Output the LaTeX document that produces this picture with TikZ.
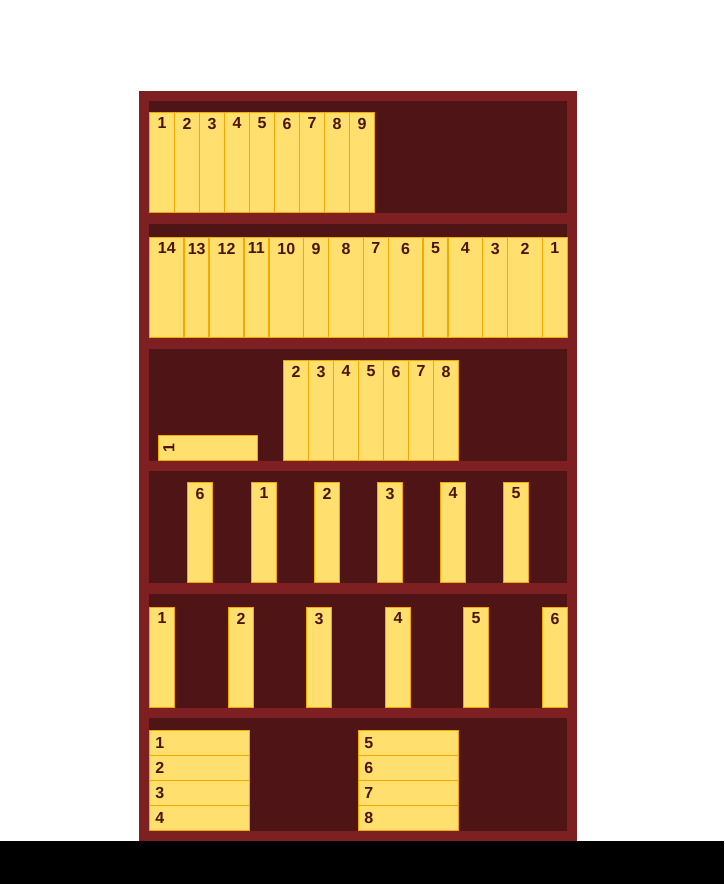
\documentclass[tikz,border=0pt]{standalone}
\usepackage{fontspec}
\setmainfont{Liberation Sans}
\usepackage{tikz}
\definecolor{marco}{HTML}{7E1F21}
\definecolor{fondo}{HTML}{4F1516}
\definecolor{lomo}{HTML}{FFE06E}
\definecolor{canto}{HTML}{F2A900}
\definecolor{tinta}{HTML}{4A1508}

\begin{document}
\begin{tikzpicture}[x=1pt,y=-1pt,
  libro/.style={draw=canto,fill=lomo,line width=1pt,inner sep=0pt,anchor=south west},
  alto/.style={libro,minimum width=24.5,minimum height=99.5},
  lab/.style={inner sep=0pt,text=tinta,font=\fontsize{16}{18}\selectfont\bfseries}]
  \useasboundingbox (0,0) rectangle (724,884);
  \fill[black] (0,841) rectangle (724,884);
  % mueble y baldas
  \fill[marco] (139,91) rectangle (577,841);
  \foreach \t/\b in {101/213,224/338,349/461,471/583,594/708,718/831}
   \fill[fondo] (149,\t) rectangle (567,\b);
  % balda 1
  \foreach \n in {1,...,9} {
   \node[alto] (a\n) at ({149.25+25*(\n-1)},212.75) {};
   \node[lab,anchor=north] at ([yshift=-5.5pt]a\n.north) {\n};
  }
  % balda 2
  \foreach \x/\w/\n in {149/34.7/14,183.7/25/13,208.7/34.7/12,243.4/25/11,268.4/34.7/10,
    303.1/25/9,328.1/34.7/8,362.8/25/7,387.8/34.7/6,422.5/25/5,447.5/34.7/4,482.2/25/3,
    507.2/34.7/2,541.9/25/1} {
   \node[alto,minimum width=\w-0.5] (b\n) at (\x+0.25,337.75) {};
   \node[lab,anchor=north] at ([yshift=-5.5pt]b\n.north) {\n};
  }
  % balda 3
  \node[libro,minimum width=98.5,minimum height=24.5] (c1) at (158.25,460.75) {};
  \node[lab,rotate=90,anchor=north] at ([xshift=5pt]c1.west) {1};
  \foreach \n in {2,...,8} {
   \node[alto] (c\n) at ({283.25+25*(\n-2)},460.75) {};
   \node[lab,anchor=north] at ([yshift=-5.5pt]c\n.north) {\n};
  }
  % balda 4
  \foreach \x/\n in {187/6,251/1,314/2,377/3,440/4,503/5} {
   \node[alto] (d\n) at (\x+0.25,582.75) {};
   \node[lab,anchor=north] at ([yshift=-5.5pt]d\n.north) {\n};
  }
  % balda 5
  \foreach \x/\n in {149/1,228/2,306/3,385/4,463/5,542/6} {
   \node[alto] (e\n) at (\x+0.25,707.75) {};
   \node[lab,anchor=north] at ([yshift=-5.5pt]e\n.north) {\n};
  }
  % balda 6
  \foreach \x/\s in {149/0,358/4}
   \foreach \k in {1,...,4} {
    \pgfmathtruncatemacro{\n}{\k+\s}
    \node[libro,minimum width=99.5,minimum height=24.5] (f\n) at (\x+0.25,{730.75+25*\k}) {};
    \node[lab,anchor=west] at ([xshift=6pt]f\n.west) {\n};
   }
\end{tikzpicture}
\end{document}
